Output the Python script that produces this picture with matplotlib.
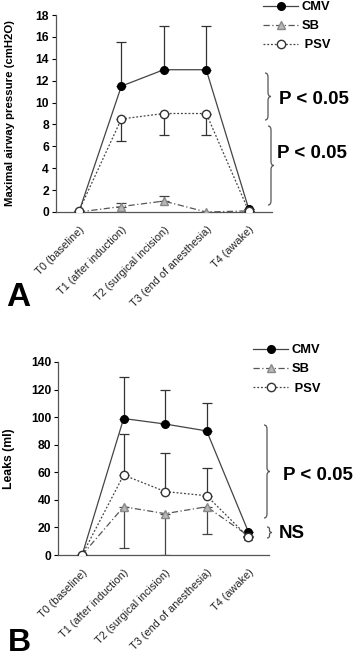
import matplotlib
matplotlib.use('Agg')
import matplotlib.pyplot as plt
from matplotlib.path import Path
from matplotlib.patches import PathPatch
import numpy as np

plt.rcParams['font.family'] = ['Liberation Sans', 'DejaVu Sans']

times = ['T0 (baseline)', 'T1 (after induction)', 'T2 (surgical incision)',
         'T3 (end of anesthesia)', 'T4 (awake)']

# panel A: maximal airway pressure (cmH2O)
press_cmv = [0, 11.5, 13, 13, 0.3]
press_cmv_up = [0, 4, 4, 4, 0]
press_sb = [0, 0.5, 1.0, 0, 0.1]
press_sb_up = [0, 0.35, 0.5, 0, 0]
press_psv = [0.1, 8.5, 9, 9, 0.1]
press_psv_lo = [0, 2, 2, 2, 0]

# panel B: leaks (ml)
leak_cmv = [0, 99, 95, 90, 17]
leak_cmv_up = [0, 30, 25, 20, 0]
leak_sb = [0, 35, 30, 35, 14]
leak_sb_lo = [0, 30, 30, 20, 0]
leak_psv = [0, 58, 46, 43, 13]
leak_psv_up = [0, 30, 28, 20, 0]

W, H = 362, 659
fig = plt.figure(figsize=(W / 100, H / 100), dpi=100)


def px_axes(l, t, r, b):
    return fig.add_axes([l / W, 1 - b / H, (r - l) / W, (b - t) / H])


def draw_panel(ax, cmv, cmv_err, sb, sb_err, psv, psv_err, ymax, ystep, xlim):
    x = np.arange(len(times))
    ax.errorbar(x, psv, yerr=psv_err, fmt='none', ecolor='#333333', elinewidth=0.9,
                capsize=3.5, capthick=0.9, zorder=2)
    ax.errorbar(x, sb, yerr=sb_err, fmt='none', ecolor='#444444', elinewidth=0.9,
                capsize=3.5, capthick=0.9, zorder=2)
    ax.errorbar(x, cmv, yerr=cmv_err, fmt='none', ecolor='#333333', elinewidth=0.9,
                capsize=3.5, capthick=0.9, zorder=2)
    ax.plot(x, cmv, '-', color='#444444', lw=0.9, marker='o', ms=5.5,
            mfc='black', mec='black', label='CMV', zorder=4)
    ax.plot(x, sb, linestyle=(0, (5, 2, 1, 2)), color='#555555', lw=0.9, marker='^', ms=6,
            mfc='#b8b8b8', mec='#888888', label='SB', zorder=3)
    ax.plot(x, psv, linestyle=(0, (1.5, 1.5)), color='#444444', lw=0.9, marker='o', ms=6,
            mfc='white', mec='#333333', label=' PSV', zorder=5)
    ax.set_xlim(*xlim)
    ax.set_ylim(0, ymax)
    ax.set_yticks(np.arange(0, ymax + 1, ystep))
    ax.set_xticks(x)
    ax.set_xticklabels(times, rotation=45, ha='right', va='top', rotation_mode='anchor',
                       fontsize=7.8, color='#222222')
    ax.tick_params(axis='x', length=0, pad=9)
    ax.tick_params(axis='y', length=3, width=0.8, labelsize=8.7, pad=2)
    for t in ax.get_yticklabels():
        t.set_fontweight('bold')
    for s in ['top', 'right']:
        ax.spines[s].set_visible(False)
    for s in ['left', 'bottom']:
        ax.spines[s].set_color('#555555')
        ax.spines[s].set_linewidth(0.9)


axA = px_axes(56, 15, 272, 212)
draw_panel(axA, press_cmv, [np.zeros(5), press_cmv_up],
           press_sb, [np.zeros(5), press_sb_up],
           press_psv, [press_psv_lo, np.zeros(5)], 18, 2, (-0.54, 4.55))
axA.set_ylabel('Maximal airway pressure (cmH2O)', fontsize=8.2, fontweight='bold')
axA.yaxis.set_label_coords(-0.19, 0.505)

axB = px_axes(58, 362, 269, 555)
draw_panel(axB, leak_cmv, [np.zeros(5), leak_cmv_up],
           leak_sb, [leak_sb_lo, np.zeros(5)],
           leak_psv, [np.zeros(5), leak_psv_up], 140, 20, (-0.58, 4.5))
axB.set_ylabel('Leaks (ml)', fontsize=8.8, fontweight='bold')
axB.yaxis.set_label_coords(-0.205, 0.5)

for ax, (lx, ly) in [(axA, (258, -4)), (axB, (248, 339))]:
    ax.legend(loc='upper left', bbox_to_anchor=(lx / W, 1 - ly / H),
              bbox_transform=fig.transFigure, frameon=False, handlelength=2.7,
              handletextpad=0.25, labelspacing=0.55, borderaxespad=0,
              prop={'weight': 'bold', 'size': 9.3})

# overlay in pixel coordinates for braces and annotations
ov = fig.add_axes([0, 0, 1, 1], zorder=10)
ov.set_xlim(0, W)
ov.set_ylim(H, 0)
ov.axis('off')


def brace(x0, y0, y1, w=6, r=4):
    ym = (y0 + y1) / 2
    verts = [(x0, y0), (x0 + w / 2, y0), (x0 + w / 2, y0 + r),
             (x0 + w / 2, ym - r), (x0 + w / 2, ym), (x0 + w, ym),
             (x0 + w / 2, ym), (x0 + w / 2, ym + r),
             (x0 + w / 2, y1 - r), (x0 + w / 2, y1), (x0, y1)]
    codes = [Path.MOVETO, Path.CURVE3, Path.CURVE3, Path.LINETO,
             Path.CURVE3, Path.CURVE3, Path.CURVE3, Path.CURVE3,
             Path.LINETO, Path.CURVE3, Path.CURVE3]
    ov.add_patch(PathPatch(Path(verts, codes), fill=False, lw=0.9, edgecolor='#555555'))


brace(265, 73, 120)
ov.text(279, 99, 'P < 0.05', fontsize=13.5, fontweight='bold', va='center')
brace(268, 126, 205)
ov.text(277, 153, 'P < 0.05', fontsize=13.5, fontweight='bold', va='center')
ov.text(6, 298, 'A', fontsize=24, fontweight='bold', va='center')

brace(264, 425, 518)
ov.text(283, 476, 'P < 0.05', fontsize=13.5, fontweight='bold', va='center')
brace(267, 527, 538, w=5, r=2)
ov.text(279, 534, 'NS', fontsize=13.5, fontweight='bold', va='center')
ov.text(8, 658, 'B', fontsize=23, fontweight='bold', va='bottom')

fig.savefig('out.png', dpi=100)
